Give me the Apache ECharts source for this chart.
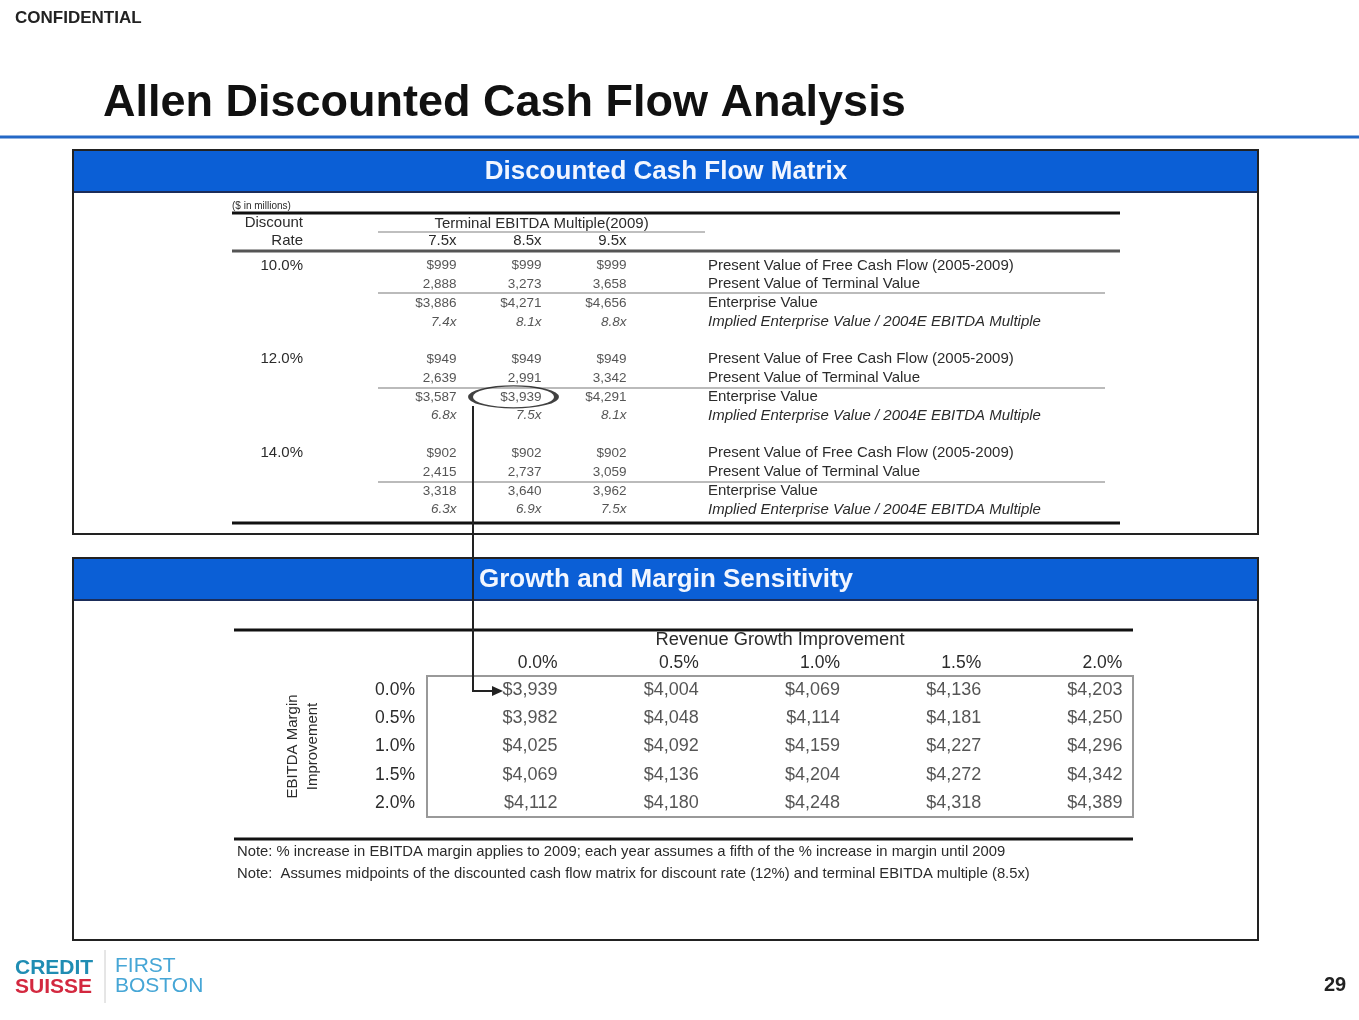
<!DOCTYPE html>
<html>
<head>
<meta charset="utf-8">
<title>Allen Discounted Cash Flow Analysis</title>
<script src="https://cdn.jsdelivr.net/npm/echarts@6/dist/echarts.min.js"></script>
<style>
  html, body { margin: 0; padding: 0; background: #fff; }
  #main { width: 1359px; height: 1020px; }
</style>
</head>
<body>
<div id="main"></div>
<script>
// Discounted cash flow matrix ($ in millions)
var rates = ['10.0%', '12.0%', '14.0%']
var multiples = ['7.5x', '8.5x', '9.5x']
var metrics = [
  'Present Value of Free Cash Flow (2005-2009)',
  'Present Value of Terminal Value',
  'Enterprise Value',
  'Implied Enterprise Value / 2004E EBITDA Multiple'
]
var pvFreeCashFlow = [[999, 999, 999], [949, 949, 949], [902, 902, 902]]
var pvTerminalValue = [[2888, 3273, 3658], [2639, 2991, 3342], [2415, 2737, 3059]]
var enterpriseValue = [[3886, 4271, 4656], [3587, 3939, 4291], [3318, 3640, 3962]]
var evPrefix = ['$', '$', '']
var impliedMultiple = [[7.4, 8.1, 8.8], [6.8, 7.5, 8.1], [6.3, 6.9, 7.5]]
// midpoint used for the sensitivity table
var highlightRate = '12.0%'
var highlightMultiple = '8.5x'

// Growth and margin sensitivity
var revenueGrowth = ['0.0%', '0.5%', '1.0%', '1.5%', '2.0%']
var marginImprovement = ['0.0%', '0.5%', '1.0%', '1.5%', '2.0%']
var sensitivity = [
  [3939, 4004, 4069, 4136, 4203],
  [3982, 4048, 4114, 4181, 4250],
  [4025, 4092, 4159, 4227, 4296],
  [4069, 4136, 4204, 4272, 4342],
  [4112, 4180, 4248, 4318, 4389]
]

var notes = [
  'Note: % increase in EBITDA margin applies to 2009; each year assumes a fifth of the % increase in margin until 2009',
  'Note:  Assumes midpoints of the discounted cash flow matrix for discount rate (12%) and terminal EBITDA multiple (8.5x)'
]

var FONT = '"Liberation Sans", Arial, sans-serif'
var TXT = '#2b2b2b'

function money(v) {
  return v.toLocaleString('en-US')
}

// one row per metric, a blank row between discount rates
var rowKeys = []
rates.forEach(function (r, ri) {
  metrics.forEach(function (m, mi) { rowKeys.push(r + '|' + mi) })
  if (ri < rates.length - 1) rowKeys.push(r + '|gap')
})

var dcfData = []
rates.forEach(function (r, ri) {
  multiples.forEach(function (m, ci) {
    dcfData.push({ name: '$' + money(pvFreeCashFlow[ri][ci]), value: [m, r + '|0'] })
    dcfData.push({ name: money(pvTerminalValue[ri][ci]), value: [m, r + '|1'] })
    dcfData.push({ name: evPrefix[ri] + money(enterpriseValue[ri][ci]), value: [m, r + '|2'] })
    dcfData.push({ name: impliedMultiple[ri][ci].toFixed(1) + 'x', value: [m, r + '|3'], label: { fontStyle: 'italic' } })
  })
})

var sensData = []
marginImprovement.forEach(function (mg, ri) {
  revenueGrowth.forEach(function (g, ci) {
    sensData.push({ name: '$' + money(sensitivity[ri][ci]), value: [g, mg] })
  })
})

function hline(x1, x2, y, w, color) {
  return { type: 'line', silent: true, shape: { x1: x1, y1: y, x2: x2, y2: y }, style: { stroke: color, lineWidth: w } }
}
function txt(x, y, s, size, opts) {
  var st = { text: s, fontSize: size, fontFamily: FONT, fill: TXT, verticalAlign: 'middle', align: 'left' }
  for (var k in opts) st[k] = opts[k]
  return { type: 'text', x: x, y: y, silent: true, style: st }
}
function panel(y, h, title) {
  return [
    { type: 'rect', silent: true, shape: { x: 74, y: y + 1, width: 1183, height: 41 }, style: { fill: '#0b5fd6' } },
    hline(74, 1257, y + 42, 2, '#1b2d5a'),
    { type: 'rect', silent: true, shape: { x: 73, y: y, width: 1185, height: h }, style: { fill: 'none', stroke: '#222', lineWidth: 2 } },
    txt(666, y + 22, title, 26, { align: 'center', fontWeight: 'bold', fill: '#f2f6ff' })
  ]
}

var graphics = [].concat(
  [
    txt(15, 18, 'CONFIDENTIAL', 17, { fontWeight: 'bold', fill: '#222' }),
    txt(103, 104, 'Allen Discounted Cash Flow Analysis', 45, { fontWeight: 'bold', fill: '#111' }),
    hline(0, 1359, 137, 3, '#2468c6')
  ],
  panel(150, 384, 'Discounted Cash Flow Matrix'),
  panel(558, 382, 'Growth and Margin Sensitivity'),
  [
    txt(232, 206, '($ in millions)', 10),
    hline(232, 1120, 213, 3, '#111'),
    txt(303, 223, 'Discount', 15, { align: 'right' }),
    txt(303, 241, 'Rate', 15, { align: 'right' }),
    hline(378, 705, 232, 1.5, '#aaa'),
    hline(232, 1120, 251, 3, '#555'),
    hline(378, 1105, 293, 2, '#bbb'),
    hline(378, 1105, 388, 2, '#bbb'),
    hline(378, 1105, 482, 2, '#bbb'),
    hline(232, 1120, 523, 3, '#111'),
    hline(234, 1133, 630, 3, '#111'),
    hline(234, 1133, 839, 3, '#111'),
    txt(237, 852, notes[0], 14.8),
    txt(237, 874, notes[1], 14.8),
    // link from the midpoint to the sensitivity base case
    { type: 'polyline', silent: true, shape: { points: [[473, 406], [473, 691], [494, 691]] }, style: { stroke: '#222', lineWidth: 2, fill: null } },
    { type: 'polygon', silent: true, shape: { points: [[492, 686], [503, 691], [492, 696]] }, style: { fill: '#222' } },
    // footer
    txt(15, 968, 'CREDIT', 21, { fontWeight: 'bold', fill: '#1f8db3' }),
    txt(15, 987, 'SUISSE', 21, { fontWeight: 'bold', fill: '#d3283f' }),
    { type: 'line', silent: true, shape: { x1: 105, y1: 950, x2: 105, y2: 1003 }, style: { stroke: '#ccc', lineWidth: 1 } },
    txt(115, 966, 'FIRST', 21, { fill: '#46a6d6' }),
    txt(115, 986, 'BOSTON', 21, { fill: '#46a6d6' }),
    txt(1335, 985, '29', 20, { align: 'center', fontWeight: 'bold', fill: '#222' })
  ]
)

function axis(o) {
  var a = { axisLine: { show: false }, axisTick: { show: false }, splitLine: { show: false } }
  for (var k in o) a[k] = o[k]
  return a
}

var chart = echarts.init(document.getElementById('main'))
chart.setOption({
  backgroundColor: '#fff',
  animation: false,
  textStyle: { fontFamily: FONT },
  grid: [
    { left: 414, top: 256, width: 255, height: 263 },
    { left: 427, top: 676, width: 706, height: 141, show: true, borderColor: '#999', borderWidth: 2, backgroundColor: 'transparent' }
  ],
  xAxis: [
    axis({
      type: 'category', gridIndex: 0, data: multiples, position: 'top',
      axisLabel: { align: 'right', margin: 8, fontSize: 15, color: TXT },
      name: 'Terminal EBITDA Multiple(2009)', nameLocation: 'middle', nameGap: 25,
      nameTextStyle: { fontSize: 15, color: TXT }
    }),
    axis({
      type: 'category', gridIndex: 1, data: revenueGrowth, position: 'top',
      axisLabel: {
        margin: 4, color: TXT,
        formatter: function (v) { return '{r|' + v + '}' },
        rich: { r: { width: 120, align: 'right', fontSize: 17.5, color: TXT, fontFamily: FONT } }
      },
      name: 'Revenue Growth Improvement', nameLocation: 'middle', nameGap: 27,
      nameTextStyle: { fontSize: 18.3, color: TXT }
    })
  ],
  yAxis: [
    axis({
      type: 'category', gridIndex: 0, data: rowKeys, inverse: true, position: 'left',
      axisLabel: {
        interval: 0, margin: 111, fontSize: 15, color: TXT,
        formatter: function (v) { return v.split('|')[1] === '0' ? v.split('|')[0] : '' }
      }
    }),
    axis({
      type: 'category', gridIndex: 0, data: rowKeys, inverse: true, position: 'right',
      axisLabel: {
        interval: 0, margin: 39, align: 'left', fontSize: 15, color: TXT,
        formatter: function (v) {
          var i = v.split('|')[1]
          if (i === 'gap') return ''
          return i === '3' ? '{it|' + metrics[3] + '}' : metrics[+i]
        },
        rich: { it: { fontStyle: 'italic', fontSize: 15, color: TXT, fontFamily: FONT } }
      }
    }),
    axis({
      type: 'category', gridIndex: 1, data: marginImprovement, inverse: true,
      axisLabel: { margin: 12, fontSize: 17.5, color: TXT },
      name: 'EBITDA Margin\nImprovement', nameLocation: 'middle', nameRotate: 90, nameGap: 104,
      nameTextStyle: { fontSize: 15, lineHeight: 20, color: TXT }
    })
  ],
  series: [
    {
      type: 'scatter', xAxisIndex: 0, yAxisIndex: 0, silent: true,
      symbolSize: 1, itemStyle: { color: 'rgba(0,0,0,0)' },
      label: { show: true, position: 'inside', align: 'right', formatter: '{b}', fontSize: 13.5, color: TXT },
      data: dcfData
    },
    {
      type: 'scatter', xAxisIndex: 0, yAxisIndex: 0, silent: true,
      symbol: 'circle', symbolSize: [86, 22], symbolOffset: [-28, 0],
      itemStyle: { color: 'rgba(0,0,0,0)', borderColor: '#111', borderWidth: 2.5 },
      data: [[highlightMultiple, highlightRate + '|2']]
    },
    {
      type: 'scatter', xAxisIndex: 1, yAxisIndex: 2, silent: true,
      symbolSize: 1, itemStyle: { color: 'rgba(0,0,0,0)' },
      label: { show: true, position: 'inside', align: 'right', offset: [60, 0], formatter: '{b}', fontSize: 18, color: TXT },
      data: sensData
    }
  ],
  graphic: graphics
})
</script>
</body>
</html>
